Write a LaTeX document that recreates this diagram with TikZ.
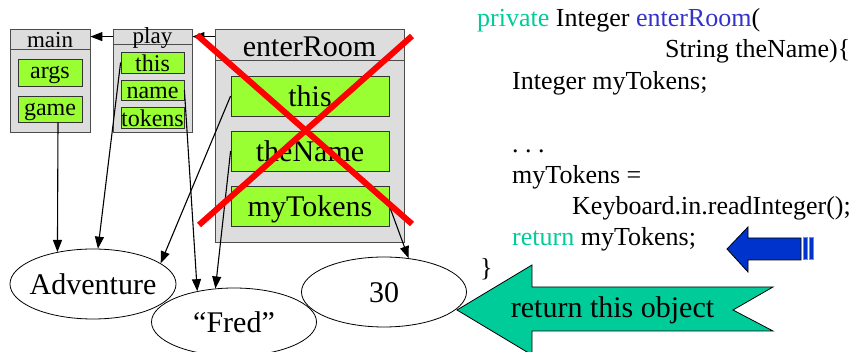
\documentclass[tikz,border=0pt]{standalone}
\usepackage{fontspec}
\setmainfont{Liberation Serif}
\usetikzlibrary{arrows.meta,shapes.geometric}

\definecolor{framegray}{RGB}{221,221,221}
\definecolor{slotgreen}{RGB}{153,255,51}
\definecolor{codegreen}{RGB}{0,204,153}
\definecolor{codeblue}{RGB}{51,51,204}
\definecolor{pointblue}{RGB}{0,51,204}

\begin{document}
\begin{tikzpicture}[x=1pt,y=-1pt,
  frame/.style={draw=black!70,fill=framegray,line width=0.8pt,inner sep=0pt},
  sep/.style={draw=black!70,line width=0.8pt},
  head/.style={anchor=base,inner sep=0pt,font=\fontsize{23}{23}\selectfont},
  bighead/.style={head,font=\fontsize{30}{30}\selectfont},
  slot/.style={draw=black!80,fill=slotgreen,line width=0.8pt,inner sep=0pt,
    text height=13pt,text depth=0pt,font=\fontsize{24}{24}\selectfont},
  playslot/.style={slot,text height=18pt},
  bigslot/.style={slot,text height=22pt,font=\fontsize{30}{30}\selectfont},
  obj/.style={draw,ellipse,line width=0.8pt,inner sep=0pt,
    text height=22pt,text depth=0pt,font=\fontsize{30}{30}\selectfont},
  ref/.style={line width=1.1pt,-{Triangle[length=12pt,width=9pt]}},
  code/.style={anchor=base west,inner sep=0pt,font=\fontsize{26}{26}\selectfont},
  cross/.style={red,line width=6pt}]
\useasboundingbox (0,0) rectangle (855,352);

% frames of the call stack
\node[frame,minimum width=80pt,minimum height=103pt] (frmMain) at (50,80.5) {};
\node[frame,minimum width=79pt,minimum height=103pt] (frmPlay) at (152.5,80.5) {};
\node[frame,minimum width=189pt,minimum height=213pt] (frmEnter) at (309.5,135.5) {};
\draw[sep] ([yshift=-21pt]frmMain.north west) -- ([yshift=-21pt]frmMain.north east);
\draw[sep] ([yshift=-16pt]frmPlay.north west) -- ([yshift=-16pt]frmPlay.north east);
\draw[sep] ([yshift=-32pt]frmEnter.north west) -- ([yshift=-32pt]frmEnter.north east);
\node[head] (hdMain) at (50,48) {main};
\node[head] (hdPlay) at (152.5,44) {play};
\node[bighead] (hdEnter) at (309.5,57) {enterRoom};

\draw[ref] ([yshift=-8pt]frmPlay.north west) -- ([yshift=-8pt]frmMain.north east);
\draw[ref] ([yshift=-8pt]frmEnter.north west) -- ([yshift=-8pt]frmPlay.north east);

% local variables
\node[slot,minimum width=64pt,minimum height=27pt] (mainArgs) at (50,72.5) {args};
\node[slot,minimum width=64pt,minimum height=26pt] (mainGame) at (50,109) {game};
\node[playslot,minimum width=63pt,minimum height=21pt] (playThis) at (152.5,62.5) {this};
\node[playslot,minimum width=63pt,minimum height=20pt] (playName) at (152.5,90) {name};
\node[playslot,minimum width=63pt,minimum height=21pt] (playTokens) at (152.5,117.5) {tokens};
\node[bigslot,minimum width=158pt,minimum height=40pt] (erThis) at (310,96) {this};
\node[bigslot,minimum width=158pt,minimum height=40pt] (erTheName) at (310,151) {theName};
\node[bigslot,minimum width=158pt,minimum height=40pt] (erMyTokens) at (310,206) {myTokens};

% objects on the heap
\node[obj,minimum width=166pt,minimum height=70pt] (objAdv) at (93,284) {\makebox[0pt]{Adventure}};
\node[obj,minimum width=165pt,minimum height=68pt] (objFred) at (234,322) {\makebox[0pt]{``Fred''}};
\node[obj,minimum width=165pt,minimum height=70pt] (objThirty) at (384,292) {\makebox[0pt]{30}};

\draw[ref] ([xshift=8pt]mainGame.south) -- (objAdv.138);
\draw[ref] (playThis.west) -- (objAdv.82);
\draw[ref] (playName.east) -- (objFred.140);
\draw[ref] (erThis.west) -- (objAdv.17);
\draw[ref] (erTheName.west) -- (objFred.119);
\draw[ref] (erMyTokens.east) -- (objThirty.54);

% the frame is gone
\draw[cross] (197,35) -- (412,224);
\draw[cross] (412,36) -- (199,225);

% source code
\node[code] (cdHead) at (477,27) {\textcolor{codegreen}{private} Integer \textcolor{codeblue}{enterRoom}(};
\node[code] (cdParam) at (665,58) {String theName)\{};
\node[code] (cdDecl) at (512,90) {Integer myTokens;};
\node[code] (cdDots) at (512,153) {.\ .\ .};
\node[code] (cdAssign) at (512,184) {myTokens =};
\node[code] (cdRead) at (572,215) {Keyboard.in.readInteger();};
\node[code] (cdReturn) at (512,246) {\textcolor{codegreen}{return} myTokens;};
\node[code] (cdClose) at (480,277) {\}};

% pointers
\draw[fill=pointblue,line width=0.8pt] (727,249) -- (748,227) -- (748,238) -- (801,238)
  -- (801,260) -- (748,260) -- (748,272) -- cycle;
\draw[fill=pointblue,draw=black!45,line width=1pt] (803,238) rectangle (807,260);
\draw[fill=pointblue,draw=black!45,line width=1pt] (809,238) rectangle (813,260);

\draw[fill=codegreen,line width=0.8pt] (457,310) -- (532,265) -- (532,287) -- (773,287)
  -- (733,310) -- (773,331) -- (532,331) -- (532,355) -- cycle;
\node[anchor=base,inner sep=0pt,font=\fontsize{30}{30}\selectfont] (retLabel) at (612.5,318) {return this object};
\end{tikzpicture}
\end{document}
